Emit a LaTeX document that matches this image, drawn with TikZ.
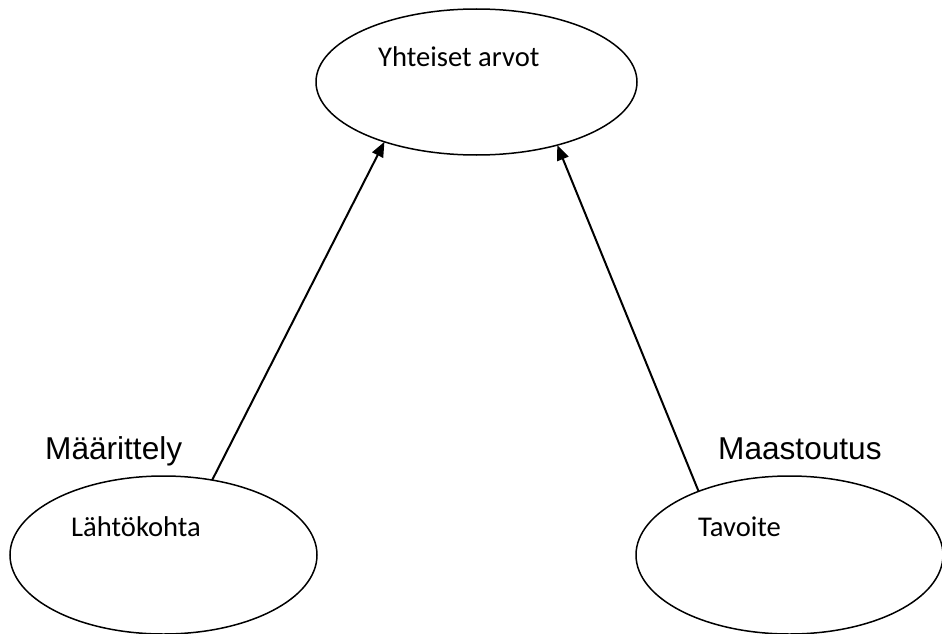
\documentclass[tikz,border=0pt]{standalone}
\usepackage{fontspec}
\setmainfont{Carlito}
\newfontfamily\labelfont{Liberation Sans}
\usetikzlibrary{shapes.geometric,arrows.meta}

\begin{document}
\begin{tikzpicture}[x=1pt,y=-1pt,
  bubble/.style={draw,ellipse,line width=1.5pt,inner sep=0pt,outer sep=0pt},
  bubbletext/.style={anchor=base west,inner sep=0pt,font=\fontsize{28.6}{34}\selectfont},
  sidetext/.style={anchor=base west,inner sep=0pt,font=\labelfont\fontsize{31.6}{38}\selectfont},
  link/.style={line width=2pt,-{Triangle[length=15pt,width=12pt]}}]
  \useasboundingbox (0,0) rectangle (942,634);
  \clip (0,0) rectangle (942,634);

  % ellipses
  \node[bubble,minimum width=321pt,minimum height=146pt] (top) at (476.5,82) {};
  \node[bubble,minimum width=307pt,minimum height=158pt] (left) at (163.5,555) {};
  \node[bubble,minimum width=307pt,minimum height=158pt] (right) at (789.5,555) {};

  % texts inside the ellipses
  \node[bubbletext] (ttop) at (378,66.7) {Yhteiset arvot};
  \node[bubbletext] (tleft) at (71,536) {Lähtökohta};
  \node[bubbletext] (tright) at (698,536) {Tavoite};

  % side labels
  \node[sidetext] (lleft) at (45,459) {Määrittely};
  \node[sidetext] (lright) at (718,459) {Maastoutus};

  % connectors
  \draw[link] (left.57.3) -- (top.-147.2);
  \draw[link] (right.145.7) -- (top.-38);
\end{tikzpicture}
\end{document}
